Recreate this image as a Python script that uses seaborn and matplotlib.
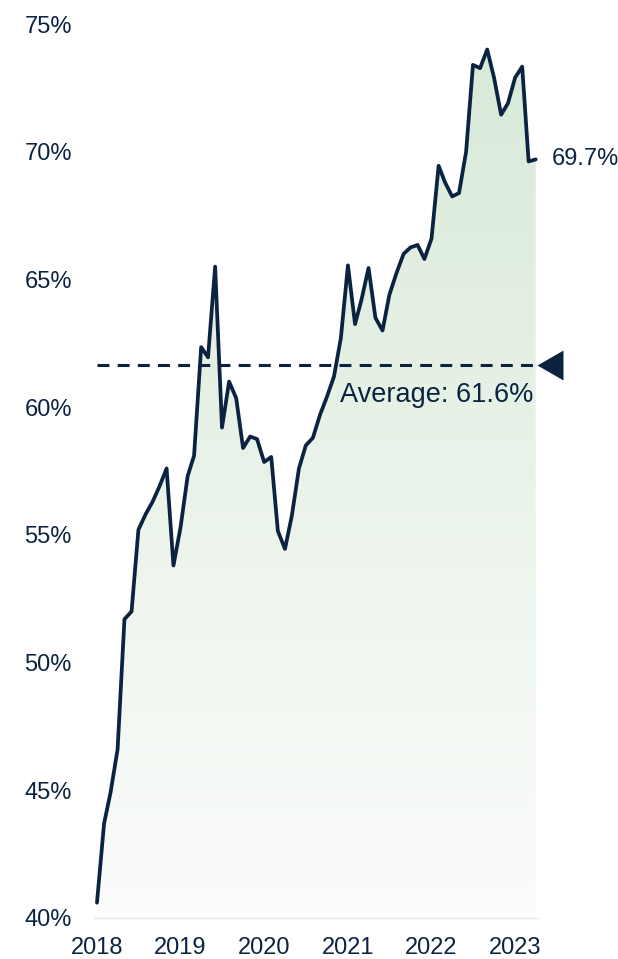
import numpy as np
import pandas as pd
import matplotlib
matplotlib.use("Agg")
import matplotlib.pyplot as plt
import matplotlib.dates as mdates
import matplotlib.transforms as mtransforms
from matplotlib.ticker import FuncFormatter
import seaborn as sns

# Monthly share (%), January 2018 through April 2023
months = pd.date_range("2018-01-01", periods=64, freq="MS")
share = [
    40.6, 43.7, 44.9, 46.6, 51.7, 52.0, 55.2, 55.8, 56.3, 56.9, 57.6, 53.8,
    55.3, 57.3, 58.1, 62.35, 61.95, 65.5, 59.2, 61.0, 60.35, 58.4, 58.85, 58.75,
    57.85, 58.05, 55.15, 54.45, 55.75, 57.6, 58.5, 58.8, 59.7, 60.4, 61.2, 62.7,
    65.55, 63.25, 64.2, 65.45, 63.5, 63.0, 64.4, 65.25, 66.0, 66.25, 66.35, 65.8,
    66.6, 69.45, 68.8, 68.25, 68.38, 70.0, 73.4, 73.27, 74.0, 72.9, 71.45, 71.9,
    72.9, 73.33, 69.62, 69.7,
]
year_ticks = [2018, 2019, 2020, 2021, 2022, 2023]
pct_ticks = [40, 45, 50, 55, 60, 65, 70, 75]

sns.set_theme(style="white")
plt.rcParams["font.family"] = ["Liberation Sans", "DejaVu Sans"]

NAVY = "#0b2341"
W, H = 618, 959

fig = plt.figure(figsize=(W / 100, H / 100), dpi=100)
ax = fig.add_axes([94 / W, 1 - 918 / H, 444 / W, 894 / H])

df = pd.DataFrame({"month": months, "share": share})
sns.lineplot(data=df, x="month", y="share", ax=ax, color=NAVY,
             linewidth=2.7, zorder=4)

x_lo = mdates.date2num(pd.Timestamp("2017-12-19"))
x_hi = mdates.date2num(pd.Timestamp("2023-04-11"))

# Vertical green gradient under the line
area = ax.fill_between(df["month"], df["share"], 40, color="none", lw=0)
top_c = np.array([0.845, 0.915, 0.845])
bot_c = np.array([0.985, 0.990, 0.985])
t = np.linspace(0, 1, 256)[:, None, None]
grad = top_c * (1 - t) + bot_c * t
grad = np.repeat(grad, 2, axis=1)
d0 = mdates.date2num(months[0])
d1 = mdates.date2num(months[-1])
img = ax.imshow(grad, extent=[d0, d1, 40, 75], aspect="auto",
                origin="upper", zorder=1, interpolation="bilinear")
img.set_clip_path(area.get_paths()[0], transform=ax.transData)
ax.set_xlim(x_lo, x_hi)
ax.set_ylim(40, 75)

# Average line with marker and label
avg = float(np.mean(share))
ax.plot([months[0], months[-1]], [avg, avg], color=NAVY, linewidth=2.2,
        linestyle=(0, (3.9, 2.7)), zorder=3)
blend = mtransforms.blended_transform_factory(ax.transAxes, ax.transData)
ax.plot([(550 - 94) / 444], [avg], transform=blend, clip_on=False,
        marker=[(-0.87, 0), (0.87, -1), (0.87, 1)], markersize=21.5,
        color=NAVY, markeredgewidth=0, zorder=5)
ax.annotate(f"Average: {avg:.1f}%", xy=(1.0, avg), xycoords=blend,
            xytext=(-5, -30), textcoords="offset pixels",
            ha="right", va="center", fontsize=19.5, color=NAVY, zorder=6)

# Latest value label
ax.annotate(f"{share[-1]:.1f}%", xy=(months[-1], share[-1]),
            xytext=(16, 0), textcoords="offset pixels",
            ha="left", va="center", fontsize=17, color=NAVY,
            annotation_clip=False)

# Axes styling
ax.set_xticks([pd.Timestamp(f"{y}-01-01") for y in year_ticks])
ax.set_xticklabels([str(y) for y in year_ticks])
ax.set_yticks(pct_ticks)
ax.yaxis.set_major_formatter(FuncFormatter(lambda v, _: f"{v:.0f}%"))
ax.tick_params(axis="both", length=0, labelsize=17, labelcolor=NAVY)
ax.tick_params(axis="y", pad=16)
ax.tick_params(axis="x", pad=14)
ax.set_xlabel("")
ax.set_ylabel("")
for side in ("top", "right", "left"):
    ax.spines[side].set_visible(False)
ax.spines["bottom"].set_color("#e6e6e6")
ax.spines["bottom"].set_linewidth(1.0)
ax.grid(False)

fig.savefig("out.png", dpi=100, facecolor="white")
